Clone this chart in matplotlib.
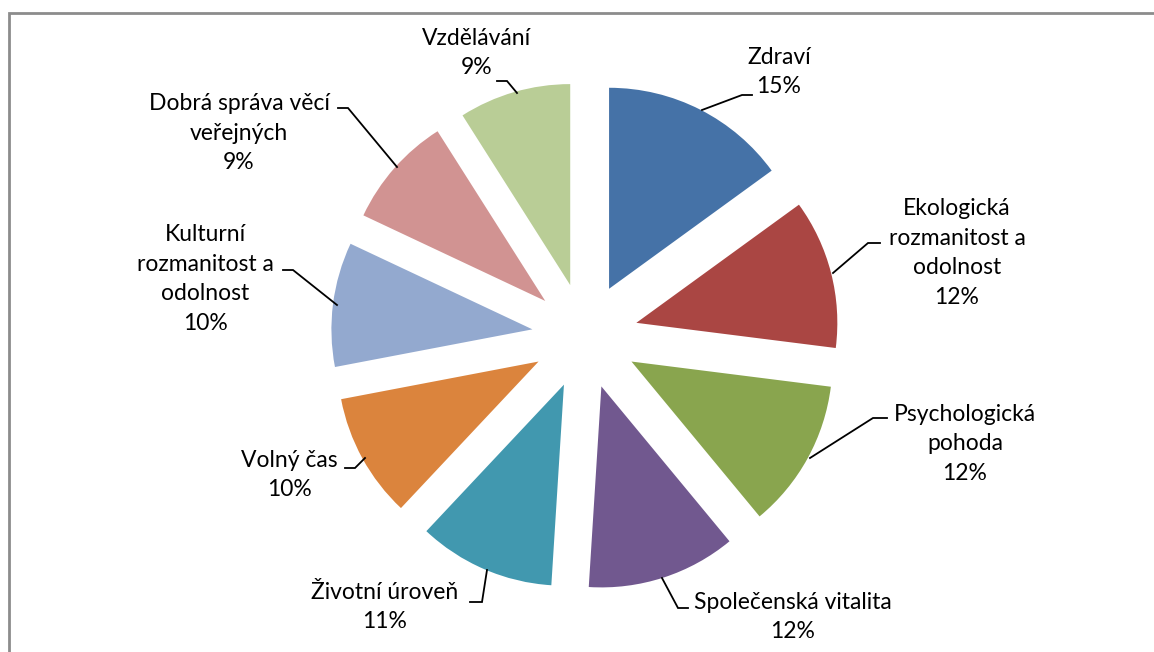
import matplotlib
matplotlib.use("Agg")
import matplotlib.pyplot as plt
from matplotlib.patches import Rectangle

# ---- data ----
categories = ["Zdraví", "Ekologická\nrozmanitost a\nodolnost", "Psychologická\npohoda",
              "Společenská vitalita", "Životní úroveň", "Volný čas",
              "Kulturní\nrozmanitost a\nodolnost", "Dobrá správa věcí\nveřejných", "Vzdělávání"]
values = [15, 12, 12, 12, 11, 10, 10, 9, 9]
colors = ["#4572A7", "#AA4643", "#89A54E", "#71588F", "#4198AF",
          "#DB843D", "#93A9CF", "#D19392", "#B9CD96"]

# ---- layout (image pixel coordinates, y downward) ----
W, H = 1154, 652
center_px = (585, 336)
radius_px = 201
explode_px = 53
label_pos = [(779, 72), (957, 253), (965, 444), (793, 617), (385, 607),
             (289, 475), (205, 279), (239, 133), (477, 53)]
leaders = [
    [(752, 95), (742, 95), (702, 110)],
    [(880, 243), (868, 243), (833, 273)],
    [(887, 418), (873, 418), (810, 458)],
    [(688, 608), (678, 608), (662, 578)],
    [(470, 602), (482, 602), (487, 570)],
    [(345, 468), (355, 468), (365, 458)],
    [(283, 270), (293, 270), (337, 305)],
    [(338, 108), (348, 108), (397, 167)],
    [(497, 81), (507, 81), (517, 93)],
]

fig = plt.figure(figsize=(W / 100, H / 100), dpi=100)
ax = fig.add_axes([0, 0, 1, 1])

def fy(y):
    return H - y

ax.pie(values, colors=colors, startangle=90, counterclock=False,
       radius=radius_px, center=(center_px[0], fy(center_px[1])),
       explode=[explode_px] * len(values),
       wedgeprops=dict(linewidth=0))

for lab, v, (x, y) in zip(categories, values, label_pos):
    ax.text(x, fy(y), f"{lab}\n{v}%", ha="center", va="center",
            fontsize=16.5, family="Lato", color="black", linespacing=1.52)

for pts in leaders:
    ax.plot([p[0] for p in pts], [fy(p[1]) for p in pts], color="black", lw=1.3,
            solid_joinstyle="miter")

ax.add_patch(Rectangle((9, -50), W + 100, fy(13) + 50, fill=False,
                       edgecolor="#8C8C8C", lw=2, clip_on=False))

ax.set_xlim(0, W)
ax.set_ylim(0, H)
ax.set_aspect("auto")
ax.axis("off")

fig.savefig("out.png", dpi=100)
